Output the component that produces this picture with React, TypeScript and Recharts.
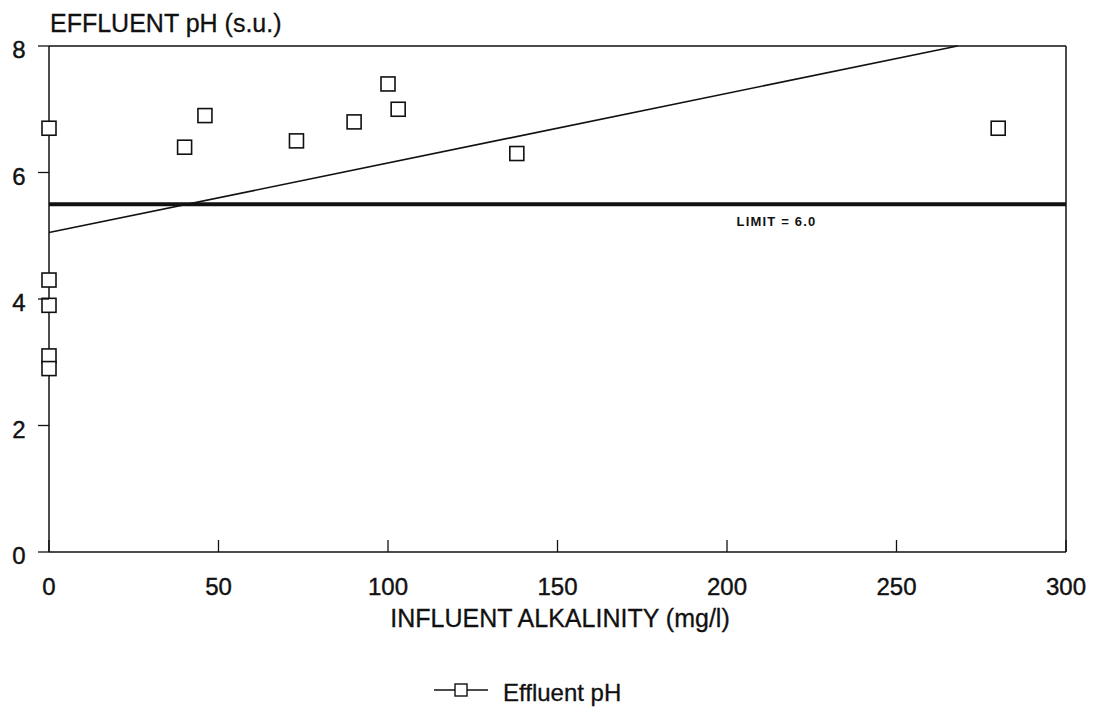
import React from 'react';
import {
  ScatterChart, Scatter, XAxis, YAxis, ReferenceLine, Legend,
} from 'recharts';

// influent alkalinity (mg/l) vs effluent pH (s.u.)
const alkalinity = [0, 40, 46, 73, 90, 100, 103, 138, 280, 0, 0, 0, 0];
const effluentPh = [6.7, 6.4, 6.9, 6.5, 6.8, 7.4, 7.0, 6.3, 6.7, 4.3, 3.9, 3.1, 2.9];

// fitted trend line end points
const trendX = [0, 268];
const trendY = [5.05, 8];

const xTicks = [0, 50, 100, 150, 200, 250, 300];
const yTicks = [0, 2, 4, 6, 8];
const limitValue = 5.5;
const limitLabel = 'LIMIT = 6.0';

const points = alkalinity.map((x, i) => ({ x, y: effluentPh[i] }));
const trend = trendX.map((x, i) => ({ x, y: trendY[i] }));

const FONT = '"Liberation Sans", Arial, Helvetica, sans-serif';

const Square = (props: any) => {
  const { cx, cy } = props;
  if (cx == null || cy == null) return null;
  return <rect x={cx - 7} y={cy - 7} width={14} height={14} fill="#fff" stroke="#111" strokeWidth={1.6} />;
};

const XTick = (props: any) => {
  const { x, y, payload } = props;
  return (
    <g>
      <line x1={x} y1={y} x2={x} y2={y - 12} stroke="#111" strokeWidth={1.3} />
      <text x={x} y={y + 43} textAnchor="middle" fontFamily={FONT} fontSize={24} fill="#111" stroke="#111" strokeWidth={0.4}>
        {payload.value}
      </text>
    </g>
  );
};

const YTick = (props: any) => {
  const { x, y, payload } = props;
  return (
    <g>
      <line x1={x} y1={y} x2={x - 11} y2={y} stroke="#111" strokeWidth={1.3} />
      <text x={x - 30} y={y + 12} textAnchor="middle" fontFamily={FONT} fontSize={24} fill="#111" stroke="#111" strokeWidth={0.4}>
        {payload.value}
      </text>
    </g>
  );
};

const LimitLabel = (props: any) => {
  const { viewBox } = props;
  return (
    <text x={viewBox.x + viewBox.width * 0.676} y={viewBox.y + 22} fontFamily={FONT} fontSize={13} fontWeight="bold" letterSpacing={1.2} fill="#111">
      {limitLabel}
    </text>
  );
};

const LegendContent = () => (
  <div style={{ height: 26, paddingLeft: 434, display: 'flex', alignItems: 'center', fontFamily: FONT, fontSize: 24, color: '#111' }}>
    <svg width={55} height={26} style={{ marginRight: 14 }}>
      <line x1={0} y1={10} x2={54} y2={10} stroke="#111" strokeWidth={1.4} />
      <rect x={21} y={4} width={12} height={12} fill="#fff" stroke="#111" strokeWidth={1.4} />
    </svg>
    <span style={{ WebkitTextStroke: '0.3px #111' }}>Effluent pH</span>
  </div>
);

export default function App() {
  return (
    <div style={{ position: 'absolute', left: 0, top: 0, width: 1095, height: 708, background: '#fff' }}>
      <ScatterChart width={1095} height={708} margin={{ top: 46, right: 29, bottom: 70, left: 0 }}>
        <XAxis
          type="number"
          dataKey="x"
          domain={[0, 300]}
          ticks={xTicks}
          height={60}
          tickSize={0}
          tickMargin={0}
          axisLine={{ stroke: '#111', strokeWidth: 1.5 }}
          tickLine={false}
          tick={<XTick />}
          interval={0}
        />
        <YAxis
          type="number"
          dataKey="y"
          domain={[0, 8]}
          ticks={yTicks}
          width={49}
          tickSize={0}
          tickMargin={0}
          axisLine={{ stroke: '#111', strokeWidth: 1.5 }}
          tickLine={false}
          tick={<YTick />}
          interval={0}
        />
        <ReferenceLine y={8} stroke="#111" strokeWidth={1.5} />
        <ReferenceLine x={300} stroke="#111" strokeWidth={1.5} />
        <ReferenceLine y={limitValue} stroke="#111" strokeWidth={4} label={<LimitLabel />} />
        <Scatter
          data={trend}
          line={{ stroke: '#111', strokeWidth: 1.6 }}
          shape={() => null}
          legendType="none"
          isAnimationActive={false}
        />
        <Scatter name="Effluent pH" data={points} shape={<Square />} isAnimationActive={false} />
        <Legend
          layout="vertical"
          align="center"
          verticalAlign="bottom"
          wrapperStyle={{ top: 680, left: 0, width: 1095 }}
          content={<LegendContent />}
        />
        <text x={50} y={32} fontFamily={FONT} fontSize={25} fill="#111" stroke="#111" strokeWidth={0.3}>EFFLUENT pH (s.u.)</text>
        <text x={560} y={627} textAnchor="middle" fontFamily={FONT} fontSize={25} fill="#111" stroke="#111" strokeWidth={0.3}>INFLUENT ALKALINITY (mg/l)</text>
      </ScatterChart>
    </div>
  );
}
